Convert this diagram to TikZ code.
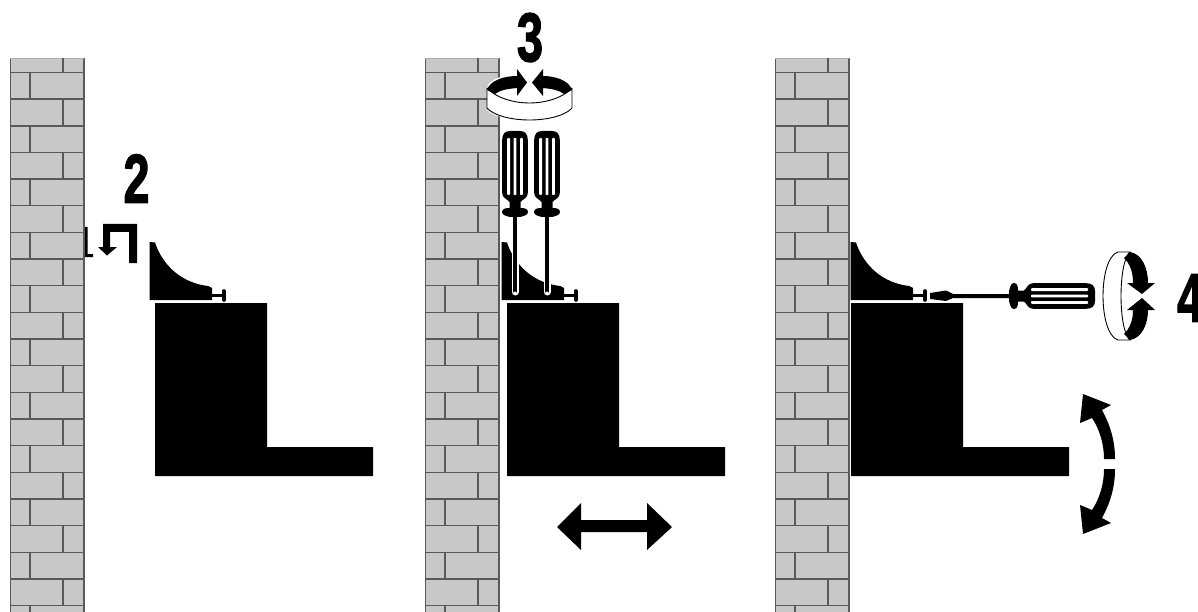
\documentclass[tikz,border=0pt]{standalone}
\usepackage{fontspec}
\setmainfont{Liberation Sans}
\newfontfamily\numfont[UprightFont=* Bold,FakeBold=2.2]{Liberation Sans}
\definecolor{brick}{HTML}{C8C8C8}
\definecolor{mortar}{HTML}{5A5A5A}
\tikzset{
  thinline/.style={draw=black,line width=0.9pt},
  numeral/.style={inner sep=0pt,font=\fontsize{69}{69}\numfont},
}
\newcommand{\brickwall}[1]{%
  \begin{scope}[shift={(#1,0)}]
    \fill[brick] (10,58) rectangle (84,612);
    \draw[mortar,line width=0.8pt] (10,58) -- (10,612);
    \draw[mortar,line width=1.3pt] (84,58) -- (84,612);
    \draw[mortar!50,line width=0.5pt] (10,58) -- (84,58);
    \draw[mortar,line width=1.4pt] (63,58) -- (63,72.5);
    \foreach \k in {0,...,20}{
      \pgfmathsetmacro{\yy}{72.5+26.66*\k}
      \pgfmathsetmacro{\yz}{min(612,\yy+26.66)}
      \pgfmathsetmacro{\xx}{isodd(\k) ? 63 : 30}
      \draw[mortar,line width=1.4pt] (10,\yy) -- (84,\yy);
      \draw[mortar,line width=1.4pt] (\xx,\yy) -- (\xx,\yz);
    }
  \end{scope}}
\newcommand{\shelfblock}[1]{%
  \fill[black,shift={(#1,0)}] (155,303) -- (267,303) -- (267,447) -- (373,447) -- (373,476) -- (155,476) -- cycle;}
\newcommand{\clampblock}[1]{%
  \begin{scope}[shift={(#1,0)}]
    \fill[black] (149.5,242) -- (155,242.5) .. controls (160,258) and (175,282) .. (208,286) -- (212,288) -- (212,300) -- (149.5,300) -- cycle;
    \draw[black,line width=3pt] (212,295.5) -- (224,295.5);
    \draw[black,line width=3.6pt,line cap=round] (224,291) -- (224,300);
  \end{scope}}
\newcommand{\driverhandle}{%
  \fill[black] (-5,0) -- (5,0) .. controls (10,0) and (12.8,3) .. (12.8,9) -- (12.8,62) .. controls (12.8,67) and (8,68) .. (5.5,71) -- (5.5,77) .. controls (9,77) and (13,77.5) .. (13,81) .. controls (13,84.5) and (8,85) .. (5,86) -- (-5,86) .. controls (-8,85) and (-13,84.5) .. (-13,81) .. controls (-13,77.5) and (-9,77) .. (-5.5,77) -- (-5.5,71) .. controls (-8,68) and (-12.8,67) .. (-12.8,62) -- (-12.8,9) .. controls (-12.8,3) and (-10,0) .. (-5,0) -- cycle;
  \foreach \s in {-6.4,0,6.4}{\fill[white,rounded corners=0.8pt] (\s-1.4,7) rectangle (\s+1.4,64);}}
\begin{document}
\begin{tikzpicture}[x=1pt,y=-1pt]
\useasboundingbox (0,0) rectangle (1198,612);
\fill[white] (0,0) rectangle (1198,612);
\brickwall{0}\brickwall{415}\brickwall{765}
\shelfblock{0}\shelfblock{352}\shelfblock{696}
\clampblock{0}\clampblock{352}\clampblock{701}

% panel 1
\node[numeral] (two) at (136.5,178.5) {\scalebox{0.68}[1]{2}};
\fill[black] (137,263) -- (137,224) -- (103,224) -- (103,247) -- (98,247) -- (107,255.5) -- (117,247) -- (110,247) -- (110,232) -- (129,232) -- (129,263) -- cycle;
\fill[black] (85,227) -- (87.5,227) -- (87.5,254) -- (93,254) -- (93,257) -- (85,257) -- cycle;

% panel 2
\node[numeral] (three) at (530,37.5) {\scalebox{0.68}[1]{3}};
\fill[white] (529.5,88) ellipse [x radius=42.5,y radius=15];
\fill[white] (487,88) rectangle (572,108);
\fill[white] (529.5,108) ellipse [x radius=42.5,y radius=12];
\draw[thinline] (487,88) .. controls (495,97) and (512,103) .. (529.5,103) .. controls (547,103) and (564,97) .. (572,88);
\draw[thinline] (487,88) -- (487,108) .. controls (493,115) and (510,120) .. (529.5,120) .. controls (549,120) and (566,115) .. (572,108) -- (572,88);
\fill[black] (487,90) .. controls (490,80) and (505,76) .. (517,76) -- (517,69) -- (527,82.5) -- (517,96) -- (517,88) .. controls (507,89) and (500,90) .. (495,94) -- cycle;
\fill[black] (572,90) .. controls (569,80) and (554,76) .. (543,76) -- (543,69) -- (532,82.5) -- (543,96) -- (543,88) .. controls (552,89) and (559,90) .. (564,94) -- cycle;
\foreach \dx in {515,547}{
  \begin{scope}[shift={(\dx,131)}]
    \driverhandle
    \draw[white,line width=7pt,line cap=round] (0,112) -- (0,161);
    \draw[black,line width=4.4pt,line cap=round] (0,84) -- (0,160);
    \fill[white] (0,162) circle (1.6);
  \end{scope}}
\fill[black] (557,527) -- (581,503) -- (581,520) -- (647,520) -- (647,503) -- (672,527) -- (647,550) -- (647,532) -- (581,532) -- (581,550) -- cycle;

% panel 3
\begin{scope}[shift={(1095,296)},rotate=-90]
  \driverhandle
\end{scope}
\fill[black] (930,293) -- (946,290.5) -- (953,294) -- (1012,294) -- (1012,298) -- (953,298) -- (946,301) -- (930,299) -- cycle;
\draw[thinline,fill=white] (1130,252) -- (1118,252) .. controls (1098,258) and (1098,334) .. (1118,340) -- (1130,340) .. controls (1118,330) and (1118,262) .. (1130,252) -- cycle;
\fill[black] (1130,252) .. controls (1142,254) and (1148,268) .. (1148,283) -- (1155,283) -- (1142,294) -- (1127,283) -- (1133,283) .. controls (1133,272) and (1130,264) .. (1124,258) -- cycle;
\fill[black] (1130,340) .. controls (1142,338) and (1148,324) .. (1148,310) -- (1155,310) -- (1142,298) -- (1127,310) -- (1133,310) .. controls (1133,320) and (1130,328) .. (1124,334) -- cycle;
\node[numeral,anchor=west] (four) at (1177,298) {\scalebox{0.68}[1]{4}};
\fill[black] (1104,459) -- (1115,459) .. controls (1115,440) and (1110,425) .. (1102,410) -- (1111,405) -- (1083,394) -- (1080,423) -- (1092,418) .. controls (1100,430) and (1104,445) .. (1104,459) -- cycle;
\fill[black] (1104,469) -- (1115,469) .. controls (1115,488) and (1110,503) .. (1102,518) -- (1111,523) -- (1083,534) -- (1080,505) -- (1092,510) .. controls (1100,498) and (1104,483) .. (1104,469) -- cycle;
\end{tikzpicture}
\end{document}
